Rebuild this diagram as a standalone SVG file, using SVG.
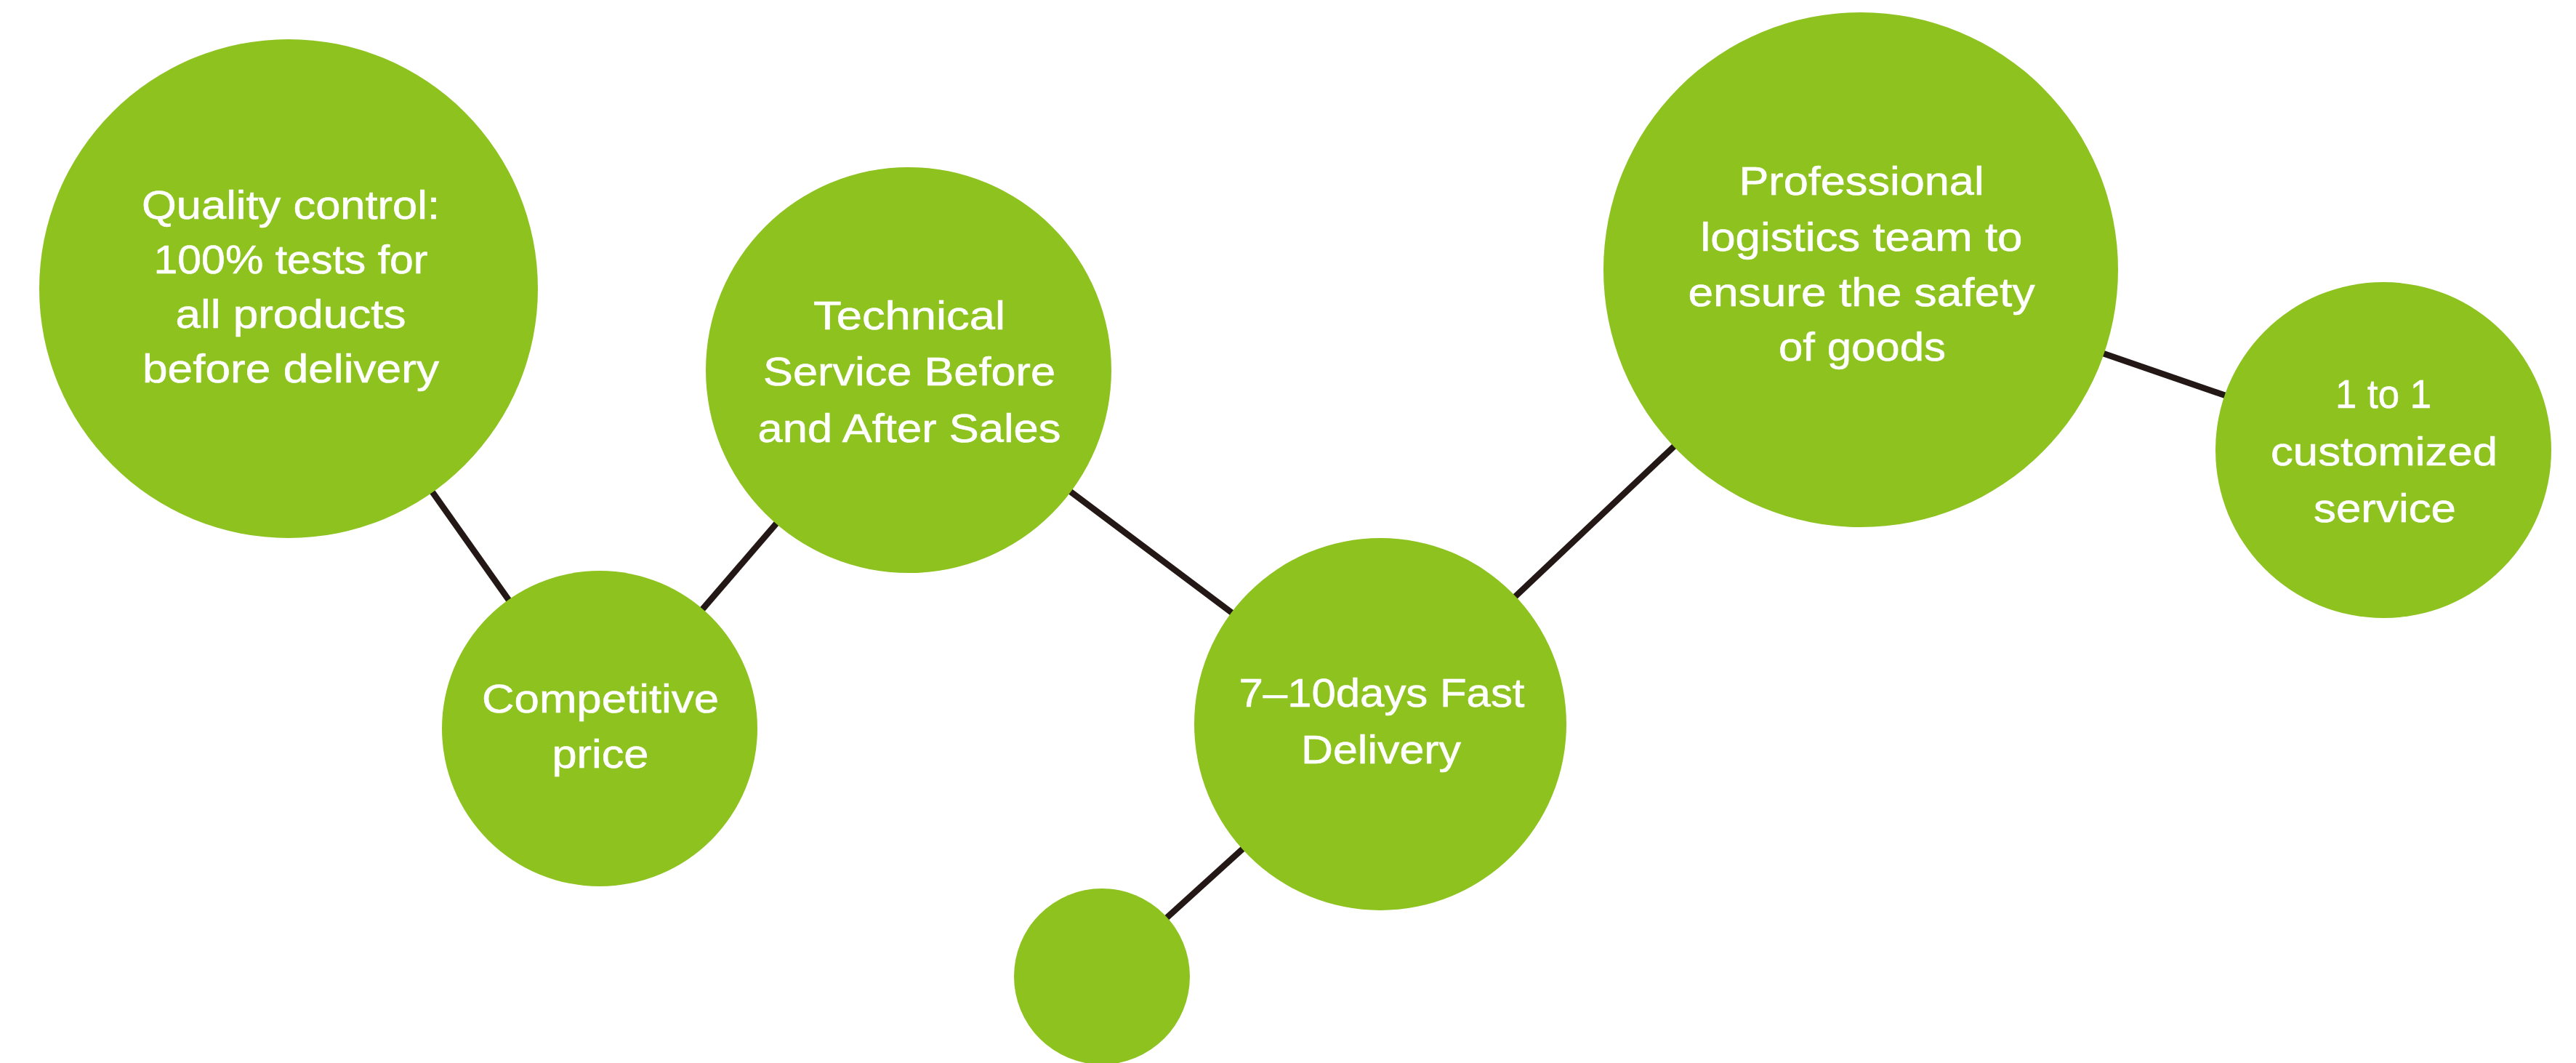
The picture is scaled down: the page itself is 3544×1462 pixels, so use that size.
<svg xmlns="http://www.w3.org/2000/svg" width="3544" height="1462" viewBox="0 0 3544 1462">
  <style>
    .bubble { fill: #8dc21f; }
    .link { stroke: #231815; stroke-width: 8.5; fill: none; }
    .label { fill: #ffffff; stroke: #ffffff; stroke-width: 0.6; font-family: "Liberation Sans", Arial, sans-serif; font-size: 56px; text-anchor: middle; }
  </style>
  <rect x="0" y="0" width="3544" height="1462" fill="#ffffff"/>
  <g id="connectors">
    <line class="link" x1="397" y1="397" x2="825" y2="1002"/>
    <line class="link" x1="825" y1="1002" x2="1250" y2="509"/>
    <line class="link" x1="1250" y1="509" x2="1899" y2="996"/>
    <line class="link" x1="1899" y1="996" x2="1516" y2="1343"/>
    <line class="link" x1="1899" y1="996" x2="2560" y2="371"/>
    <line class="link" x1="2560" y1="371" x2="3279" y2="619"/>
  </g>
  <g id="node-quality">
    <circle class="bubble" cx="397" cy="397" r="343"/>
    <text class="label" x="400" y="301" textLength="410" lengthAdjust="spacingAndGlyphs">Quality control:</text>
    <text class="label" x="400" y="376" textLength="377" lengthAdjust="spacingAndGlyphs">100% tests for</text>
    <text class="label" x="400" y="451" textLength="317" lengthAdjust="spacingAndGlyphs">all products</text>
    <text class="label" x="400" y="526" textLength="408" lengthAdjust="spacingAndGlyphs">before delivery</text>
  </g>
  <g id="node-price">
    <circle class="bubble" cx="825" cy="1002" r="217"/>
    <text class="label" x="826" y="980" textLength="326" lengthAdjust="spacingAndGlyphs">Competitive</text>
    <text class="label" x="826" y="1056" textLength="133" lengthAdjust="spacingAndGlyphs">price</text>
  </g>
  <g id="node-technical">
    <circle class="bubble" cx="1250" cy="509" r="279"/>
    <text class="label" x="1251" y="453" textLength="264" lengthAdjust="spacingAndGlyphs">Technical</text>
    <text class="label" x="1251" y="530" textLength="402" lengthAdjust="spacingAndGlyphs">Service Before</text>
    <text class="label" x="1251" y="608" textLength="417" lengthAdjust="spacingAndGlyphs">and After Sales</text>
  </g>
  <g id="node-delivery">
    <circle class="bubble" cx="1899" cy="996" r="256"/>
    <text class="label" x="1901" y="972" textLength="393" lengthAdjust="spacingAndGlyphs">7–10days Fast</text>
    <text class="label" x="1900" y="1050" textLength="220" lengthAdjust="spacingAndGlyphs">Delivery</text>
  </g>
  <g id="node-small">
    <circle class="bubble" cx="1516" cy="1343" r="121"/>
  </g>
  <g id="node-logistics">
    <circle class="bubble" cx="2560" cy="371" r="354"/>
    <text class="label" x="2561" y="268" textLength="337" lengthAdjust="spacingAndGlyphs">Professional</text>
    <text class="label" x="2561" y="345" textLength="443" lengthAdjust="spacingAndGlyphs">logistics team to</text>
    <text class="label" x="2561" y="421" textLength="477" lengthAdjust="spacingAndGlyphs">ensure the safety</text>
    <text class="label" x="2562" y="496" textLength="230" lengthAdjust="spacingAndGlyphs">of goods</text>
  </g>
  <g id="node-custom">
    <circle class="bubble" cx="3279" cy="619" r="231"/>
    <text class="label" x="3279" y="561" textLength="132" lengthAdjust="spacingAndGlyphs">1 to 1</text>
    <text class="label" x="3280" y="640" textLength="312" lengthAdjust="spacingAndGlyphs">customized</text>
    <text class="label" x="3281" y="718" textLength="196" lengthAdjust="spacingAndGlyphs">service</text>
  </g>
</svg>
